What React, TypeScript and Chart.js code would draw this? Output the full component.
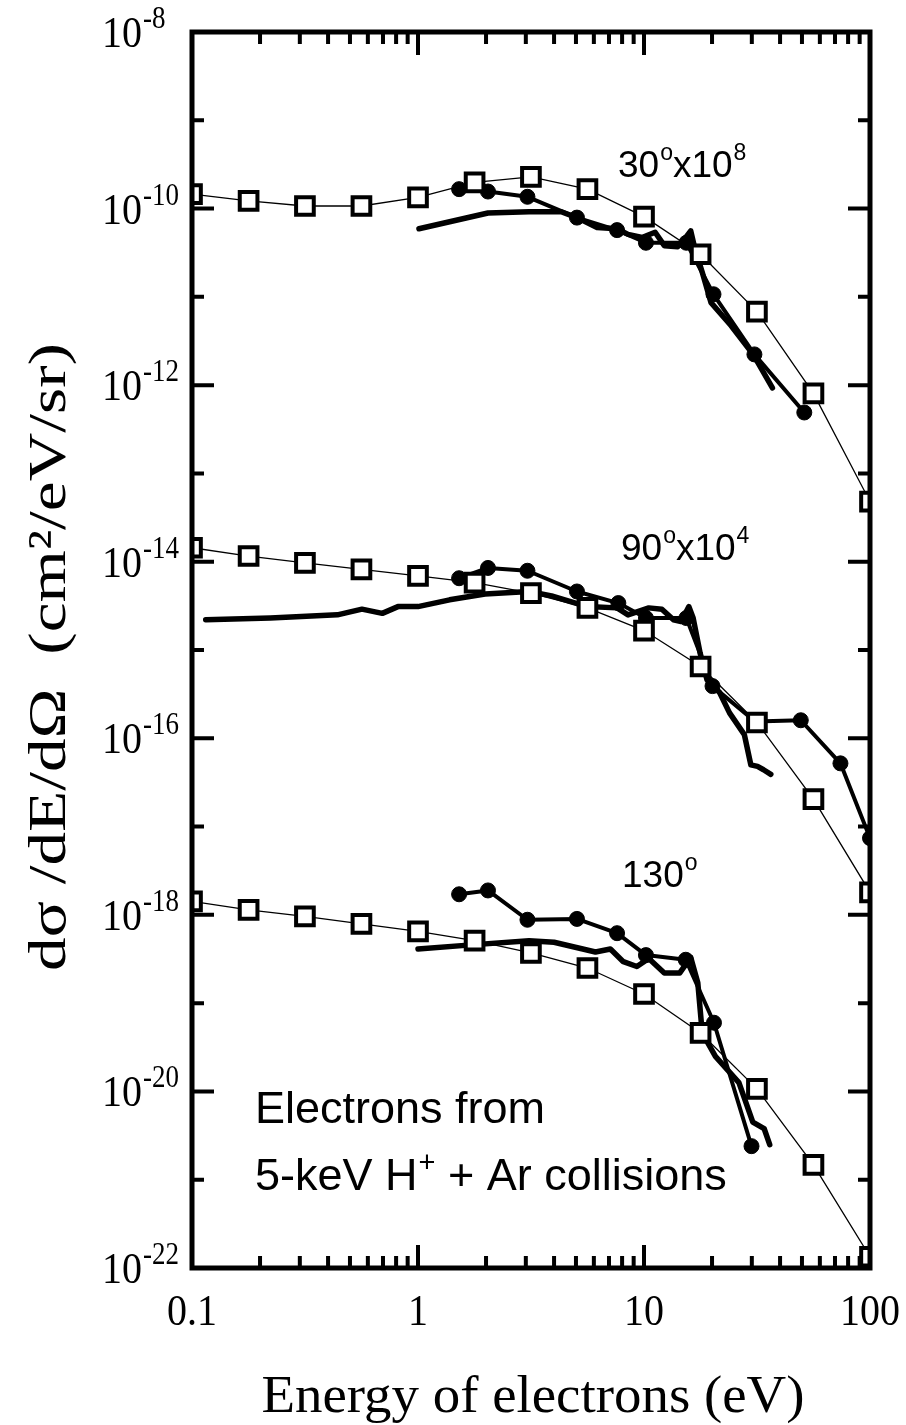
import React, { useEffect, useRef } from 'react';
import { Chart, registerables } from 'chart.js';

Chart.register(...registerables);

// ---------- data ----------
const squareEnergy = [0.1, 0.178, 0.316, 0.562, 1, 1.78, 3.16, 5.62, 10, 17.8, 31.6, 56.2, 100];
const square30 = [1.46e-10, 1.22e-10, 1.07e-10, 1.07e-10, 1.34e-10, 1.98e-10, 2.29e-10, 1.66e-10, 8.1e-11, 3.04e-11, 6.8e-12, 8.07e-13, 4.8e-14];
const square90 = [1.44e-14, 1.16e-14, 9.7e-15, 8.2e-15, 6.9e-15, 5.8e-15, 4.4e-15, 3.0e-15, 1.66e-15, 6.5e-16, 1.51e-16, 2.05e-17, 1.8e-18];
const square130 = [1.42e-18, 1.14e-18, 9.6e-19, 7.9e-19, 6.5e-19, 5.1e-19, 3.7e-19, 2.5e-19, 1.27e-19, 4.6e-20, 1.07e-20, 1.47e-21, 1.34e-22];

const circleEnergy30 = [1.52, 2.04, 3.05, 5.05, 7.6, 10.2, 15.4, 20.3, 30.8, 51.2];
const circle30 = [1.66e-10, 1.56e-10, 1.36e-10, 7.9e-11, 5.7e-11, 4.1e-11, 4.1e-11, 1.07e-11, 2.23e-12, 4.9e-13];
const circleEnergy90 = [1.52, 2.04, 3.05, 5.05, 7.7, 10.2, 15.4, 20.1, 31, 49.4, 74, 100];
const circle90 = [6.5e-15, 8.5e-15, 7.9e-15, 4.6e-15, 3.4e-15, 2.3e-15, 2.3e-15, 3.9e-16, 1.55e-16, 1.6e-16, 5.2e-17, 7.4e-18];
const circleEnergy130 = [1.52, 2.04, 3.05, 5.05, 7.6, 10.2, 15.3, 20.4, 29.9];
const circle130 = [1.71e-18, 1.89e-18, 8.8e-19, 9.0e-19, 6.2e-19, 3.5e-19, 3.1e-19, 6.0e-20, 2.4e-21];

const solidEnergy30 = [1.01, 2.04, 3.1, 4.3, 5.05, 6.2, 7.6, 8.5, 9.8, 11.2, 12.3, 14.1, 15.1, 16.1, 16.8, 18.1, 19.8, 24.3, 30.5, 37];
const solid30 = [5.9e-11, 8.9e-11, 9.2e-11, 9.2e-11, 7.9e-11, 6.1e-11, 5.9e-11, 5.1e-11, 4.7e-11, 5.4e-11, 3.8e-11, 3.7e-11, 4.5e-11, 5.6e-11, 3.5e-11, 1.9e-11, 8.6e-12, 4.7e-12, 2.2e-12, 9.3e-13];
const solidEnergy90 = [0.115, 0.222, 0.44, 0.565, 0.695, 0.815, 1.0, 1.38, 1.98, 3.1, 3.9, 5.6, 7.6, 8.5, 10.5, 12, 13.5, 14.6, 15.8, 16.5, 17.7, 19, 21.6, 23.9, 27.8, 29.7, 31.8, 33.8, 36.4];
const solid90 = [2.2e-15, 2.3e-15, 2.5e-15, 2.9e-15, 2.6e-15, 3.1e-15, 3.1e-15, 3.7e-15, 4.3e-15, 4.6e-15, 4.1e-15, 3.1e-15, 3.0e-15, 2.5e-15, 3.0e-15, 2.9e-15, 2.2e-15, 2.1e-15, 3.1e-15, 2.3e-15, 9.3e-16, 4.6e-16, 3.3e-16, 1.94e-16, 1.1e-16, 5.0e-17, 4.8e-17, 4.4e-17, 3.9e-17];
const solidEnergy130 = [1.0, 1.78, 3.1, 4.0, 6.1, 7.1, 8.1, 9.3, 10.5, 12.3, 14.4, 16.1, 17.3, 18.1, 20.7, 26.3, 30.3, 34, 36];
const solid130 = [4.1e-19, 4.6e-19, 5.1e-19, 4.9e-19, 3.8e-19, 4.1e-19, 2.95e-19, 2.6e-19, 3.2e-19, 2.2e-19, 2.2e-19, 3.3e-19, 1.7e-19, 4.6e-20, 2.5e-20, 1.26e-20, 4.5e-21, 3.8e-21, 2.5e-21];

const xTickValues = [0.1, 1, 10, 100];
const xTickLabels = ['0.1', '1', '10', '100'];
const yLabelExponents = [-8, -10, -12, -14, -16, -18, -20, -22];

const xTitle = 'Energy of electrons (eV)';
const yTitle = 'd\u03C3 /dE/d\u03A9  (cm\u00B2/eV/sr)';

const SERIF = '"Liberation Serif", "Times New Roman", serif';
const SANS = '"Liberation Sans", Arial, sans-serif';

function pts(xs: number[], ys: number[]) {
  return xs.map((x, i) => ({ x, y: ys[i] }));
}

function drawText(ctx: CanvasRenderingContext2D, text: string, x: number, y: number, font: string, align: CanvasTextAlign = 'left', sx = 1, sy = 1) {
  ctx.save();
  ctx.translate(x, y);
  ctx.scale(sx, sy);
  ctx.font = font;
  ctx.textAlign = align;
  ctx.textBaseline = 'alphabetic';
  ctx.fillStyle = '#000';
  ctx.fillText(text, 0, 0);
  ctx.restore();
}

function textWidth(ctx: CanvasRenderingContext2D, text: string, font: string) {
  ctx.save();
  ctx.font = font;
  const w = ctx.measureText(text).width;
  ctx.restore();
  return w;
}

function drawAngleLabel(ctx: CanvasRenderingContext2D, x: number, base: number, angle: string, mult: string | null) {
  const big = `37px ${SANS}`;
  const small = `23px ${SANS}`;
  let cx = x;
  drawText(ctx, angle, cx, base, big);
  cx += textWidth(ctx, angle, big);
  drawText(ctx, 'o', cx + 1, base - 17, small);
  cx += textWidth(ctx, 'o', small) + 1;
  if (mult) {
    drawText(ctx, 'x10', cx, base, big);
    cx += textWidth(ctx, 'x10', big);
    drawText(ctx, mult, cx + 1, base - 17, small);
  }
}

const framePlugin = {
  id: 'framePlugin',
  afterDatasetsDraw(chart: any) {
    const ctx: CanvasRenderingContext2D = chart.ctx;
    const { left, right, top, bottom } = chart.chartArea;
    const xs = chart.scales.x;
    const ys = chart.scales.y;
    ctx.save();
    ctx.strokeStyle = '#000';
    ctx.lineCap = 'butt';

    ctx.lineWidth = 4;
    for (let d = -1; d <= 1; d++) {
      for (let m = 1; m <= 9; m++) {
        const v = m * Math.pow(10, d);
        const px = xs.getPixelForValue(v);
        const len = m === 1 ? 23 : 12;
        ctx.beginPath();
        ctx.moveTo(px, bottom);
        ctx.lineTo(px, bottom - len);
        ctx.moveTo(px, top);
        ctx.lineTo(px, top + len);
        ctx.stroke();
      }
    }
    for (let e = -22; e <= -8; e++) {
      const py = ys.getPixelForValue(Math.pow(10, e));
      const len = e % 2 === 0 ? 22 : 12;
      ctx.beginPath();
      ctx.moveTo(left, py);
      ctx.lineTo(left + len, py);
      ctx.moveTo(right, py);
      ctx.lineTo(right - len, py);
      ctx.stroke();
    }
    ctx.lineWidth = 5;
    ctx.strokeRect(left, top, right - left, bottom - top);

    const tickFont = `40px ${SERIF}`;
    const supFont = `27px ${SERIF}`;
    yLabelExponents.forEach((e) => {
      const py = ys.getPixelForValue(Math.pow(10, e));
      const base = py + 15;
      drawText(ctx, '10', 102, base, tickFont, 'left', 1, 1.13);
      const w = textWidth(ctx, '10', tickFont);
      drawText(ctx, '-' + Math.abs(e), 102 + w + 1, base - 19, supFont, 'left', 1, 1.13);
    });
    xTickValues.forEach((v, i) => {
      const px = xs.getPixelForValue(v);
      drawText(ctx, xTickLabels[i], px, 1325, tickFont, 'center', 1, 1.13);
    });

    const xtFont = `52px ${SERIF}`;
    const xtw = textWidth(ctx, xTitle, xtFont);
    drawText(ctx, xTitle, 533, 1412, xtFont, 'center', 543 / xtw, 1);

    const ytFont = `53px ${SERIF}`;
    const ytw = textWidth(ctx, yTitle, ytFont);
    ctx.save();
    ctx.translate(65, 657);
    ctx.rotate(-Math.PI / 2);
    ctx.scale(628 / ytw, 1);
    ctx.font = ytFont;
    ctx.textAlign = 'center';
    ctx.textBaseline = 'alphabetic';
    ctx.fillStyle = '#000';
    ctx.fillText(yTitle, 0, 0);
    ctx.restore();

    drawAngleLabel(ctx, 618, 177, '30', '8');
    drawAngleLabel(ctx, 621, 560, '90', '4');
    drawAngleLabel(ctx, 622, 887, '130', null);

    const noteFont = `45px ${SANS}`;
    drawText(ctx, 'Electrons from', 255, 1123, noteFont);
    let cx = 255;
    const p1 = '5-keV H';
    drawText(ctx, p1, cx, 1190, noteFont);
    cx += textWidth(ctx, p1, noteFont);
    drawText(ctx, '+', cx + 1, 1172, `29px ${SANS}`);
    cx += textWidth(ctx, '+', `29px ${SANS}`) + 1;
    drawText(ctx, ' + Ar collisions', cx, 1190, noteFont);

    ctx.restore();
  },
};

export default function App() {
  const ref = useRef<HTMLCanvasElement | null>(null);

  useEffect(() => {
    if (!ref.current) return;
    const solid = (xs: number[], ys: number[]) => ({
      data: pts(xs, ys),
      showLine: true,
      borderColor: '#000',
      borderWidth: 5.5,
      borderCapStyle: 'round' as const,
      borderJoinStyle: 'round' as const,
      pointRadius: 0,
      tension: 0,
      order: 3,
      clip: 0,
    });
    const circles = (xs: number[], ys: number[]) => ({
      data: pts(xs, ys),
      showLine: true,
      borderColor: '#000',
      borderWidth: 4,
      borderJoinStyle: 'round' as const,
      pointStyle: 'circle' as const,
      pointRadius: 7.5,
      pointBackgroundColor: '#000',
      pointBorderColor: '#000',
      pointBorderWidth: 1,
      tension: 0,
      order: 2,
      clip: 0,
    });
    const squares = (xs: number[], ys: number[]) => ({
      data: pts(xs, ys),
      showLine: true,
      borderColor: '#000',
      borderWidth: 1.3,
      pointStyle: 'rect' as const,
      pointRadius: 12.5,
      pointBackgroundColor: '#fff',
      pointBorderColor: '#000',
      pointBorderWidth: 4,
      tension: 0,
      order: 1,
      clip: 0,
    });

    const chart = new Chart(ref.current, {
      type: 'scatter',
      data: {
        datasets: [
          solid(solidEnergy30, solid30),
          solid(solidEnergy90, solid90),
          solid(solidEnergy130, solid130),
          circles(circleEnergy30, circle30),
          circles(circleEnergy90, circle90),
          circles(circleEnergy130, circle130),
          squares(squareEnergy, square30),
          squares(squareEnergy, square90),
          squares(squareEnergy, square130),
        ] as any,
      },
      options: {
        responsive: false,
        animation: false,
        devicePixelRatio: 1,
        events: [],
        layout: { padding: { left: 192, right: 36, top: 32, bottom: 157 } },
        plugins: { legend: { display: false }, tooltip: { enabled: false } },
        scales: {
          x: { type: 'logarithmic', min: 0.1, max: 100, display: false },
          y: { type: 'logarithmic', min: 1e-22, max: 1e-8, display: false },
        },
      },
      plugins: [framePlugin],
    });
    return () => chart.destroy();
  }, []);

  return (
    <div style={{ position: 'absolute', left: 0, top: 0, width: 906, height: 1425, background: '#fff' }}>
      <canvas ref={ref} width={906} height={1425} style={{ display: 'block', width: 906, height: 1425 }} />
    </div>
  );
}
